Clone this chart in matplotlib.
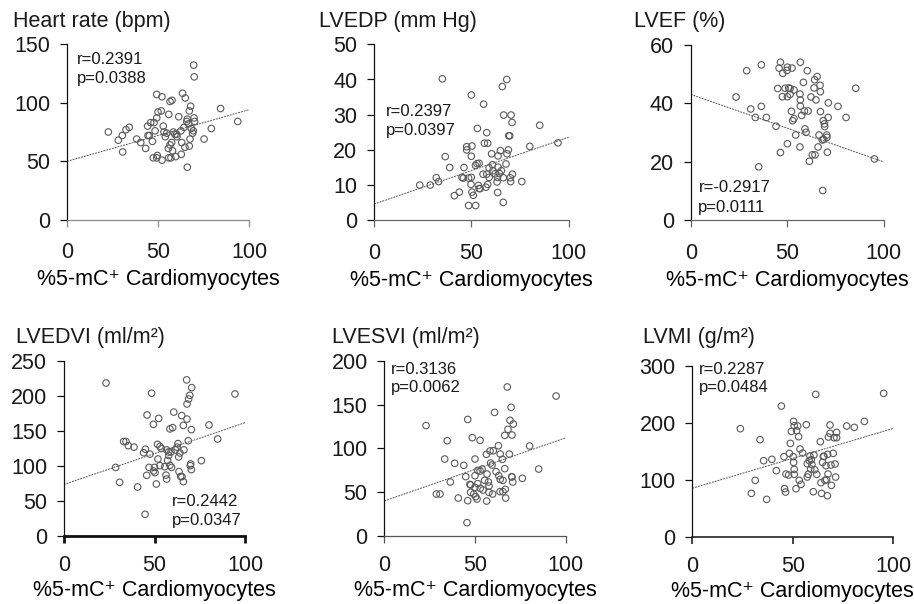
import numpy as np
import matplotlib
matplotlib.use("Agg")
import matplotlib.pyplot as plt

plt.rcParams['font.family'] = ['Liberation Sans', 'DejaVu Sans']
plt.rcParams['text.color'] = '#1a1a1a'

# --- data ---
hr_x = [22.7, 28.2, 30.4, 32.4, 34.2, 30.6, 38.3, 40.5, 43.2, 44.3,
        45.2, 44.5, 46.0, 46.9, 47.8, 48.4, 49.3, 49.3, 50.0, 49.3,
        47.4, 49.6, 52.2, 52.2, 51.8, 52.9, 53.3, 54.0, 54.8, 55.9,
        56.6, 57.7, 55.7, 56.6, 55.9, 57.1, 57.5, 58.4, 59.3, 60.3,
        58.0, 59.7, 60.4, 61.4, 62.6, 63.0, 62.8, 63.5, 65.0, 64.3,
        64.8, 65.8, 66.1, 67.2, 67.9, 66.8, 67.6, 67.2, 66.1, 68.3,
        69.0, 69.8, 69.6, 69.9, 70.1, 69.4, 75.3, 79.3, 84.4, 93.8]
hr_y = [75, 68, 72, 77, 79, 58, 69, 66, 61, 80,
        72, 72, 83, 67, 83, 76, 107, 87, 92, 53,
        53, 55, 51, 105, 93, 80, 75, 71, 74, 90,
        101, 102, 61, 64, 53, 53, 66, 75, 73, 73,
        59, 54, 71, 88, 76, 66, 56, 108, 104, 79,
        62, 84, 86, 93, 97, 82, 69, 63, 45, 78,
        74, 87, 132, 122, 84, 76, 69, 78, 95, 84]

lvedp_x = [23.5, 28.9, 32.0, 33.2, 35.1, 36.6, 38.9, 41.3, 43.8, 46.2,
           45.2, 45.9, 47.6, 47.6, 48.6, 48.6, 50.0, 50.3, 50.0, 50.0,
           49.8, 50.3, 51.0, 52.2, 52.1, 52.9, 53.1, 53.6, 54.0, 54.5,
           54.0, 56.0, 56.3, 56.7, 57.9, 58.4, 57.9, 57.5, 58.4, 59.1,
           59.1, 60.4, 60.8, 61.1, 62.2, 63.4, 63.2, 63.7, 63.7, 64.9,
           63.5, 64.4, 65.4, 65.9, 66.4, 66.6, 66.4, 67.8, 68.2, 68.3,
           69.0, 69.2, 69.7, 70.4, 70.0, 70.2, 71.1, 70.9, 75.9, 80.0,
           85.1, 94.5]
lvedp_y = [10, 10, 12.1, 11, 40.2, 18.1, 15, 7, 8, 15,
           12.2, 12, 20.9, 20, 12, 4.2, 35.6, 21.1, 18.2, 12.2,
           10.2, 8, 7.1, 4.2, 15.6, 16.1, 26.1, 9.9, 9, 9,
           16.2, 13.1, 33, 21.9, 24.9, 21.9, 13.1, 9.4, 10.2, 14.9,
           12.2, 18.9, 15.8, 14.1, 13.2, 12.2, 10.9, 18.3, 15.1, 19.8,
           7.9, 13.3, 14.1, 38, 5.1, 29.9, 12.1, 16, 40, 18.9,
           20, 24, 24, 29.9, 12.1, 11, 13.1, 27.8, 11, 21,
           27, 22]

lvef_x = [23.5, 29.0, 31.1, 33.5, 35.2, 36.6, 36.6, 39.2, 44.2, 46.5,
          45.8, 45.1, 46.5, 47.7, 47.5, 48.9, 50.1, 49.9, 50.1, 50.8,
          51.5, 51.5, 50.1, 52.5, 52.2, 52.8, 53.5, 53.5, 54.4, 56.8,
          56.6, 56.8, 56.8, 57.5, 56.6, 58.4, 58.9, 59.2, 59.8, 60.8,
          60.4, 61.5, 62.3, 63.0, 64.4, 63.9, 64.2, 65.5, 64.9, 66.0,
          66.5, 67.0, 67.2, 67.2, 68.4, 68.7, 69.3, 69.4, 68.9, 68.2,
          70.5, 70.6, 70.8, 71.2, 71.3, 76.3, 80.5, 85.5, 95.2]
lvef_y = [42.2, 51.2, 38.1, 35.2, 18.3, 53.2, 39, 35.2, 32.2, 54.1,
          52.1, 45.1, 23.2, 50.3, 42.3, 45.2, 42.3, 51.3, 52.4, 45.3,
          43.1, 45.1, 26.2, 52.1, 37.3, 34.1, 34.8, 44.6, 29.2, 54.1,
          43.2, 41.2, 39.1, 35.9, 25.1, 47.2, 37.4, 31.3, 30.1, 37.4,
          51.2, 20.2, 42.2, 22.4, 22.4, 45.3, 48.1, 49.2, 41.2, 25.1,
          29.2, 46.2, 44, 37.2, 10.2, 34.1, 33, 32.1, 27.7, 27.5,
          29.2, 28.4, 23.3, 35.2, 40.2, 39, 35.2, 45.2, 21]

lvedvi_x = [23.3, 28.6, 30.8, 33.0, 34.3, 35.6, 38.7, 40.7, 44.0, 45.0,
            44.8, 45.9, 45.7, 47.0, 47.5, 48.4, 49.4, 49.5, 50.0, 50.3,
            51.0, 51.7, 52.3, 53.0, 51.9, 53.0, 53.8, 55.6, 56.3, 56.7,
            56.7, 57.2, 57.8, 57.8, 58.5, 58.5, 59.1, 60.0, 60.6, 59.4,
            61.5, 62.4, 62.9, 63.3, 63.5, 64.0, 64.4, 65.0, 65.1, 65.9,
            65.9, 66.2, 67.7, 67.9, 67.9, 68.6, 68.8, 69.4, 69.7, 69.9,
            70.5, 70.3, 70.3, 75.8, 80.0, 84.8, 94.3]
lvedvi_y = [218.6, 98, 76.7, 135, 135, 129, 127, 70, 119, 124,
            31, 172.9, 86.7, 98, 117, 204, 159.5, 92.9, 98, 90.5,
            74.3, 131, 168, 128, 110, 100.5, 125, 99, 87, 81.4,
            123, 108, 115, 120, 153, 101, 120, 154.8, 177, 98,
            123, 127, 132, 113, 92, 118.6, 85, 172, 84.8, 158,
            77.6, 123, 223, 188.6, 167, 136, 195.7, 201, 100.5, 103,
            212, 152, 94.8, 107.6, 158.6, 138.6, 202.9]

lvesvi_x = [23.0, 28.7, 30.7, 33.3, 34.7, 36.4, 38.8, 40.8, 43.8, 44.9,
            45.6, 46.0, 46.0, 47.2, 47.6, 47.6, 48.5, 49.3, 50.0, 50.0,
            50.0, 50.4, 51.1, 51.5, 51.5, 52.8, 52.8, 52.9, 53.9, 54.4,
            55.3, 56.3, 56.4, 56.6, 57.4, 57.7, 57.7, 58.3, 58.6, 59.4,
            59.7, 60.8, 60.1, 61.6, 62.9, 63.1, 63.8, 63.9, 63.9, 65.1,
            65.4, 65.4, 66.4, 66.4, 66.7, 66.9, 67.8, 68.2, 68.9, 69.3,
            69.9, 70.4, 70.4, 71.1, 70.2, 70.8, 76.1, 80.1, 85.1, 94.7]
lvesvi_y = [126, 47.9, 47.9, 87.8, 108.7, 61.6, 82.9, 43.3, 80.6, 67.7,
            15.2, 133, 40.3, 58.9, 58.2, 49.8, 112.2, 47.9, 87.8, 68.8,
            55.5, 44.9, 42.2, 74.9, 59.7, 109.1, 74.1, 54.4, 76.4, 52.5,
            63.5, 93.2, 39.9, 70.7, 61.6, 57, 49.8, 97, 83.3, 81,
            47.9, 141, 97.3, 73.4, 103, 68.8, 50.6, 93.5, 64.6, 87.5,
            63.5, 50.6, 114.8, 76.8, 53.2, 43.3, 170, 121.7, 93.5, 132,
            146.8, 115.2, 67.3, 127.8, 67.7, 61.6, 65.8, 102.7, 76.4, 159.7]

lvmi_x = [23.9, 29.4, 31.3, 33.7, 35.5, 37.0, 39.6, 41.8, 44.3, 45.6,
          45.9, 46.4, 46.6, 47.9, 48.3, 48.8, 49.3, 50.4, 50.2, 50.4,
          50.7, 50.7, 50.7, 51.6, 51.9, 52.4, 52.9, 53.2, 53.6, 54.1,
          54.9, 56.7, 57.2, 57.2, 57.7, 58.2, 58.5, 58.9, 59.2, 59.5,
          60.2, 60.5, 60.9, 61.4, 61.9, 63.7, 64.0, 64.3, 64.8, 65.2,
          65.5, 66.0, 66.5, 66.8, 67.2, 67.3, 67.5, 67.7, 68.5, 68.5,
          69.0, 69.2, 70.1, 70.5, 71.0, 71.3, 71.8, 71.8, 76.8, 80.6,
          85.6, 95.2]
lvmi_y = [189.5, 76, 98.8, 170.2, 133.3, 65.5, 135.7, 115.8, 229.2, 140.4,
          84.2, 78.4, 109.9, 108.2, 146.2, 163.7, 184.8, 202.3, 140.4, 130.4,
          194.7, 118.1, 109.4, 84.2, 186, 194.2, 175.4, 98.8, 153.8, 91.8,
          146.8, 196.5, 104.7, 128, 109.4, 133.3, 141.5, 118.7, 135.1, 126.3,
          78.9, 143.3, 117.5, 249.7, 109.4, 166.7, 94.7, 76, 130.4, 140.9,
          140.9, 98.8, 124.6, 100, 71.9, 144.4, 109.9, 174.9, 195.9, 181.3,
          125.7, 90.1, 146.2, 173.7, 127.5, 104.7, 183, 173.7, 194.2, 191.8,
          202.3, 251.5]

titles = ['Heart rate (bpm)', 'LVEDP (mm Hg)', 'LVEF (%)',
          'LVEDVI (ml/m²)', 'LVESVI (ml/m²)', 'LVMI (g/m²)']
stats_r = ['r=0.2391', 'r=0.2397', 'r=-0.2917', 'r=0.2442', 'r=0.3136', 'r=0.2287']
stats_p = ['p=0.0388', 'p=0.0397', 'p=0.0111', 'p=0.0347', 'p=0.0062', 'p=0.0484']
y_max = [150, 50, 60, 250, 200, 300]
y_step = [50, 10, 20, 50, 50, 100]
# fitted line: y at x=0 and at x=100
fit_lo = [50, 4.6, 43.1, 73.5, 40, 85]
fit_hi = [94, 23.6, 20, 162, 112, 190]
xs = [hr_x, lvedp_x, lvef_x, lvedvi_x, lvesvi_x, lvmi_x]
ys = [hr_y, lvedp_y, lvef_y, lvedvi_y, lvesvi_y, lvmi_y]

# --- layout (pixels in a 914x604 canvas) ---
W, H = 914, 604
# left, right, bottom, top of each plot area
boxes = [(67, 249, 220, 44), (374, 568.7, 220.3, 44.3), (690.7, 883.7, 220.3, 45),
         (63.7, 245.3, 536, 361), (384.3, 565.7, 536, 360.7), (692.3, 893.3, 536.7, 365.7)]
title_pos = [(13, 26.7), (319, 26.7), (634, 26.7),
             (16, 342.7), (331.7, 342.7), (643.3, 342.7)]
# annotation position in data units: x, r baseline, p baseline
ann_pos = [(5.5, 133, 116.8), (6, 29.5, 24.2), (4, 9.6, 3.0),
           (59.4, 43.3, 15.7), (3.5, 184.8, 164.6), (3.5, 285.4, 254.4)]
xspine = [('#8a8a8a', 0.9), ('#666666', 0.9), ('#666666', 0.9),
          ('#111111', 2.0), ('#555555', 0.9), ('#222222', 1.2)]

fig = plt.figure(figsize=(W / 100, H / 100), dpi=100)

for i in range(6):
    l, r, b, t = boxes[i]
    ax = fig.add_axes([l / W, 1 - b / H, (r - l) / W, (b - t) / H])
    ax.scatter(xs[i], ys[i], s=22, facecolors='none', edgecolors='#5a5a5a',
               linewidths=0.8, zorder=3, clip_on=False)
    ax.plot([0, 100], [fit_lo[i], fit_hi[i]], color='#555555', lw=0.7,
            ls=(0, (2, 1)), zorder=2)
    ax.set_xlim(0, 100)
    ax.set_ylim(0, y_max[i])
    ax.set_xticks([0, 50, 100])
    ax.set_yticks(np.arange(0, y_max[i] + 1, y_step[i]))
    for s in ('top', 'right'):
        ax.spines[s].set_visible(False)
    ax.spines['left'].set_color('#111111')
    ax.spines['left'].set_linewidth(0.9)
    c, w = xspine[i]
    ax.spines['bottom'].set_color(c)
    ax.spines['bottom'].set_linewidth(w)
    top_row = i < 3
    ax.tick_params(axis='y', length=5, width=0.9, color='#111111',
                   labelsize=15.5, pad=7, labelcolor='#1a1a1a')
    ax.tick_params(axis='x', length=5, width=w, color=c,
                   labelsize=15.5, pad=11 if top_row else 9, labelcolor='#1a1a1a')
    ax.set_xlabel('%5-mC⁺ Cardiomyocytes', fontsize=15.5,
                  labelpad=4.5 if top_row else 2.5)
    ax.patch.set_alpha(0)

    xa, yr, yp = ann_pos[i]
    ax.text(xa, yr, stats_r[i], fontsize=12, va='baseline', ha='left')
    ax.text(xa, yp, stats_p[i], fontsize=12, va='baseline', ha='left')

    tx, ty = title_pos[i]
    fig.text(tx / W, 1 - ty / H, titles[i], fontsize=15.5, va='baseline', ha='left')

fig.savefig('out.png', dpi=100)
